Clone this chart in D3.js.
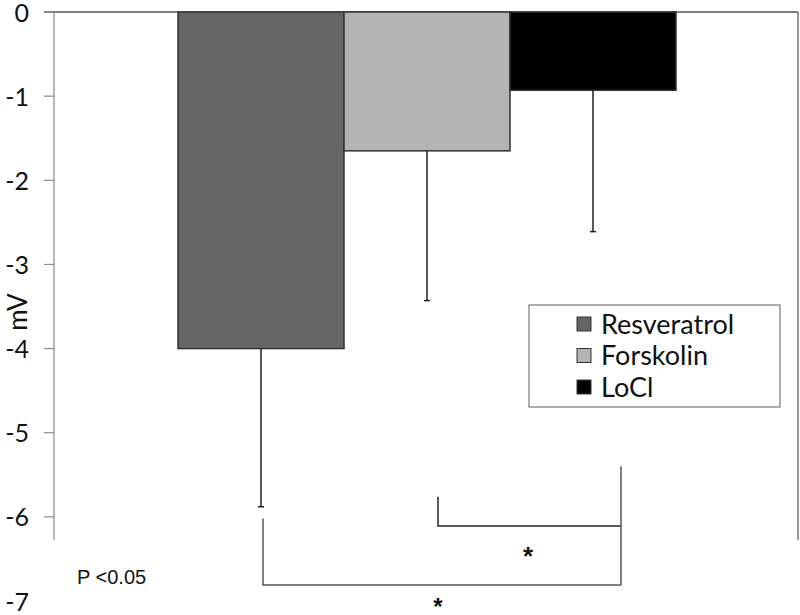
<!DOCTYPE html>
<html><head><meta charset="utf-8">
<script src="https://cdn.jsdelivr.net/npm/d3@7"></script>
<style>body{margin:0;background:#fff;} svg{display:block;}</style>
</head><body>
<svg id="chart" width="800" height="615"></svg>
<script>
const categories = ["Resveratrol", "Forskolin", "LoCl"];
const means = [-4.0, -1.65, -0.93];
const errLow = [-5.88, -3.43, -2.61];
const colors = ["#666666", "#b3b3b3", "#000000"];
const yTicks = [0, -1, -2, -3, -4, -5, -6, -7];
const axisLabel = "mV";
const pText = "P <0.05";

const svg = d3.select("#chart");
const y = d3.scaleLinear().domain([0, -7]).range([12, 601]);
const x = d3.scaleBand().domain(categories).range([178, 676]).paddingInner(0).paddingOuter(0);
const font = "Lato, 'Open Sans', sans-serif";
const sans = "'Liberation Sans', Arial, sans-serif";

// plot frame: top line and right line
svg.append("line").attr("x1", 44).attr("x2", 798).attr("y1", y(0)).attr("y2", y(0))
  .attr("stroke", "#555").attr("stroke-width", 1.5);
svg.append("line").attr("x1", 798).attr("x2", 798).attr("y1", y(0)).attr("y2", 540)
  .attr("stroke", "#777").attr("stroke-width", 1.5);

// y axis
svg.append("line").attr("x1", 54).attr("x2", 54).attr("y1", y(0)).attr("y2", 540)
  .attr("stroke", "#888").attr("stroke-width", 1.2);
const tg = svg.append("g");
yTicks.forEach(t => {
  if (y(t) <= 540) tg.append("line").attr("x1", 44).attr("x2", 54).attr("y1", y(t)).attr("y2", y(t)).attr("stroke", "#888").attr("stroke-width", 1.2);
  tg.append("text").attr("x", 29).attr("y", y(t)).attr("dy", "0.38em")
    .attr("text-anchor", "end").attr("font-family", font).attr("font-size", 25)
    .attr("fill", "#111").text(t === 0 ? "0" : "-" + Math.abs(t));
});
svg.append("text").attr("transform", `translate(27,312) rotate(-90)`)
  .attr("text-anchor", "middle").attr("font-family", font).attr("font-size", 26)
  .attr("fill", "#111").text(axisLabel);

// bars
svg.selectAll("rect.bar").data(categories).join("rect").attr("class", "bar")
  .attr("x", d => x(d)).attr("width", x.bandwidth())
  .attr("y", y(0)).attr("height", (d, i) => y(means[i]) - y(0))
  .attr("fill", (d, i) => colors[i]).attr("stroke", "#333").attr("stroke-width", 1.5);

// error bars
categories.forEach((c, i) => {
  const cx = x(c) + x.bandwidth() / 2;
  svg.append("line").attr("x1", cx).attr("x2", cx).attr("y1", y(means[i])).attr("y2", y(errLow[i]))
    .attr("stroke", "#222").attr("stroke-width", 1.5);
  svg.append("line").attr("x1", cx - 3).attr("x2", cx + 3).attr("y1", y(errLow[i])).attr("y2", y(errLow[i]))
    .attr("stroke", "#222").attr("stroke-width", 1.5);
});

// significance brackets
const bxLeft = [263, 438];
const bxRight = 621;
svg.append("path").attr("d", `M${bxLeft[1]},${y(-5.76)} V${y(-6.11)} H${bxRight}`)
  .attr("fill", "none").attr("stroke", "#222").attr("stroke-width", 1.5);
svg.append("line").attr("x1", bxRight).attr("x2", bxRight).attr("y1", y(-5.4)).attr("y2", y(-6.81))
  .attr("stroke", "#555").attr("stroke-width", 1.5);
svg.append("path").attr("d", `M${bxLeft[0]},${y(-6.02)} V${y(-6.81)} H${bxRight}`)
  .attr("fill", "none").attr("stroke", "#555").attr("stroke-width", 1.5);
svg.append("text").attr("x", 528).attr("y", 565).attr("text-anchor", "middle")
  .attr("font-family", sans).attr("font-size", 26).attr("font-weight", "bold").attr("fill", "#111").text("*");
svg.append("text").attr("x", 438).attr("y", 615).attr("text-anchor", "middle")
  .attr("font-family", sans).attr("font-size", 24).attr("font-weight", "bold").attr("fill", "#111").text("*");
svg.append("text").attr("x", 77).attr("y", 584)
  .attr("font-family", sans).attr("font-size", 20).attr("fill", "#111").text(pText);

// legend
const lg = svg.append("g").attr("transform", "translate(529,305)");
lg.append("rect").attr("width", 251).attr("height", 102).attr("fill", "#fff")
  .attr("stroke", "#777").attr("stroke-width", 1.2);
categories.forEach((c, i) => {
  const ry = 19 + i * 31.5;
  lg.append("rect").attr("x", 48).attr("y", ry - 7).attr("width", 14).attr("height", 14)
    .attr("fill", colors[i]).attr("stroke", "#333").attr("stroke-width", 1);
  lg.append("text").attr("x", 72).attr("y", ry).attr("dy", "0.36em")
    .attr("font-family", font).attr("font-size", 27).attr("fill", "#111").text(c);
});
</script>
</body></html>
